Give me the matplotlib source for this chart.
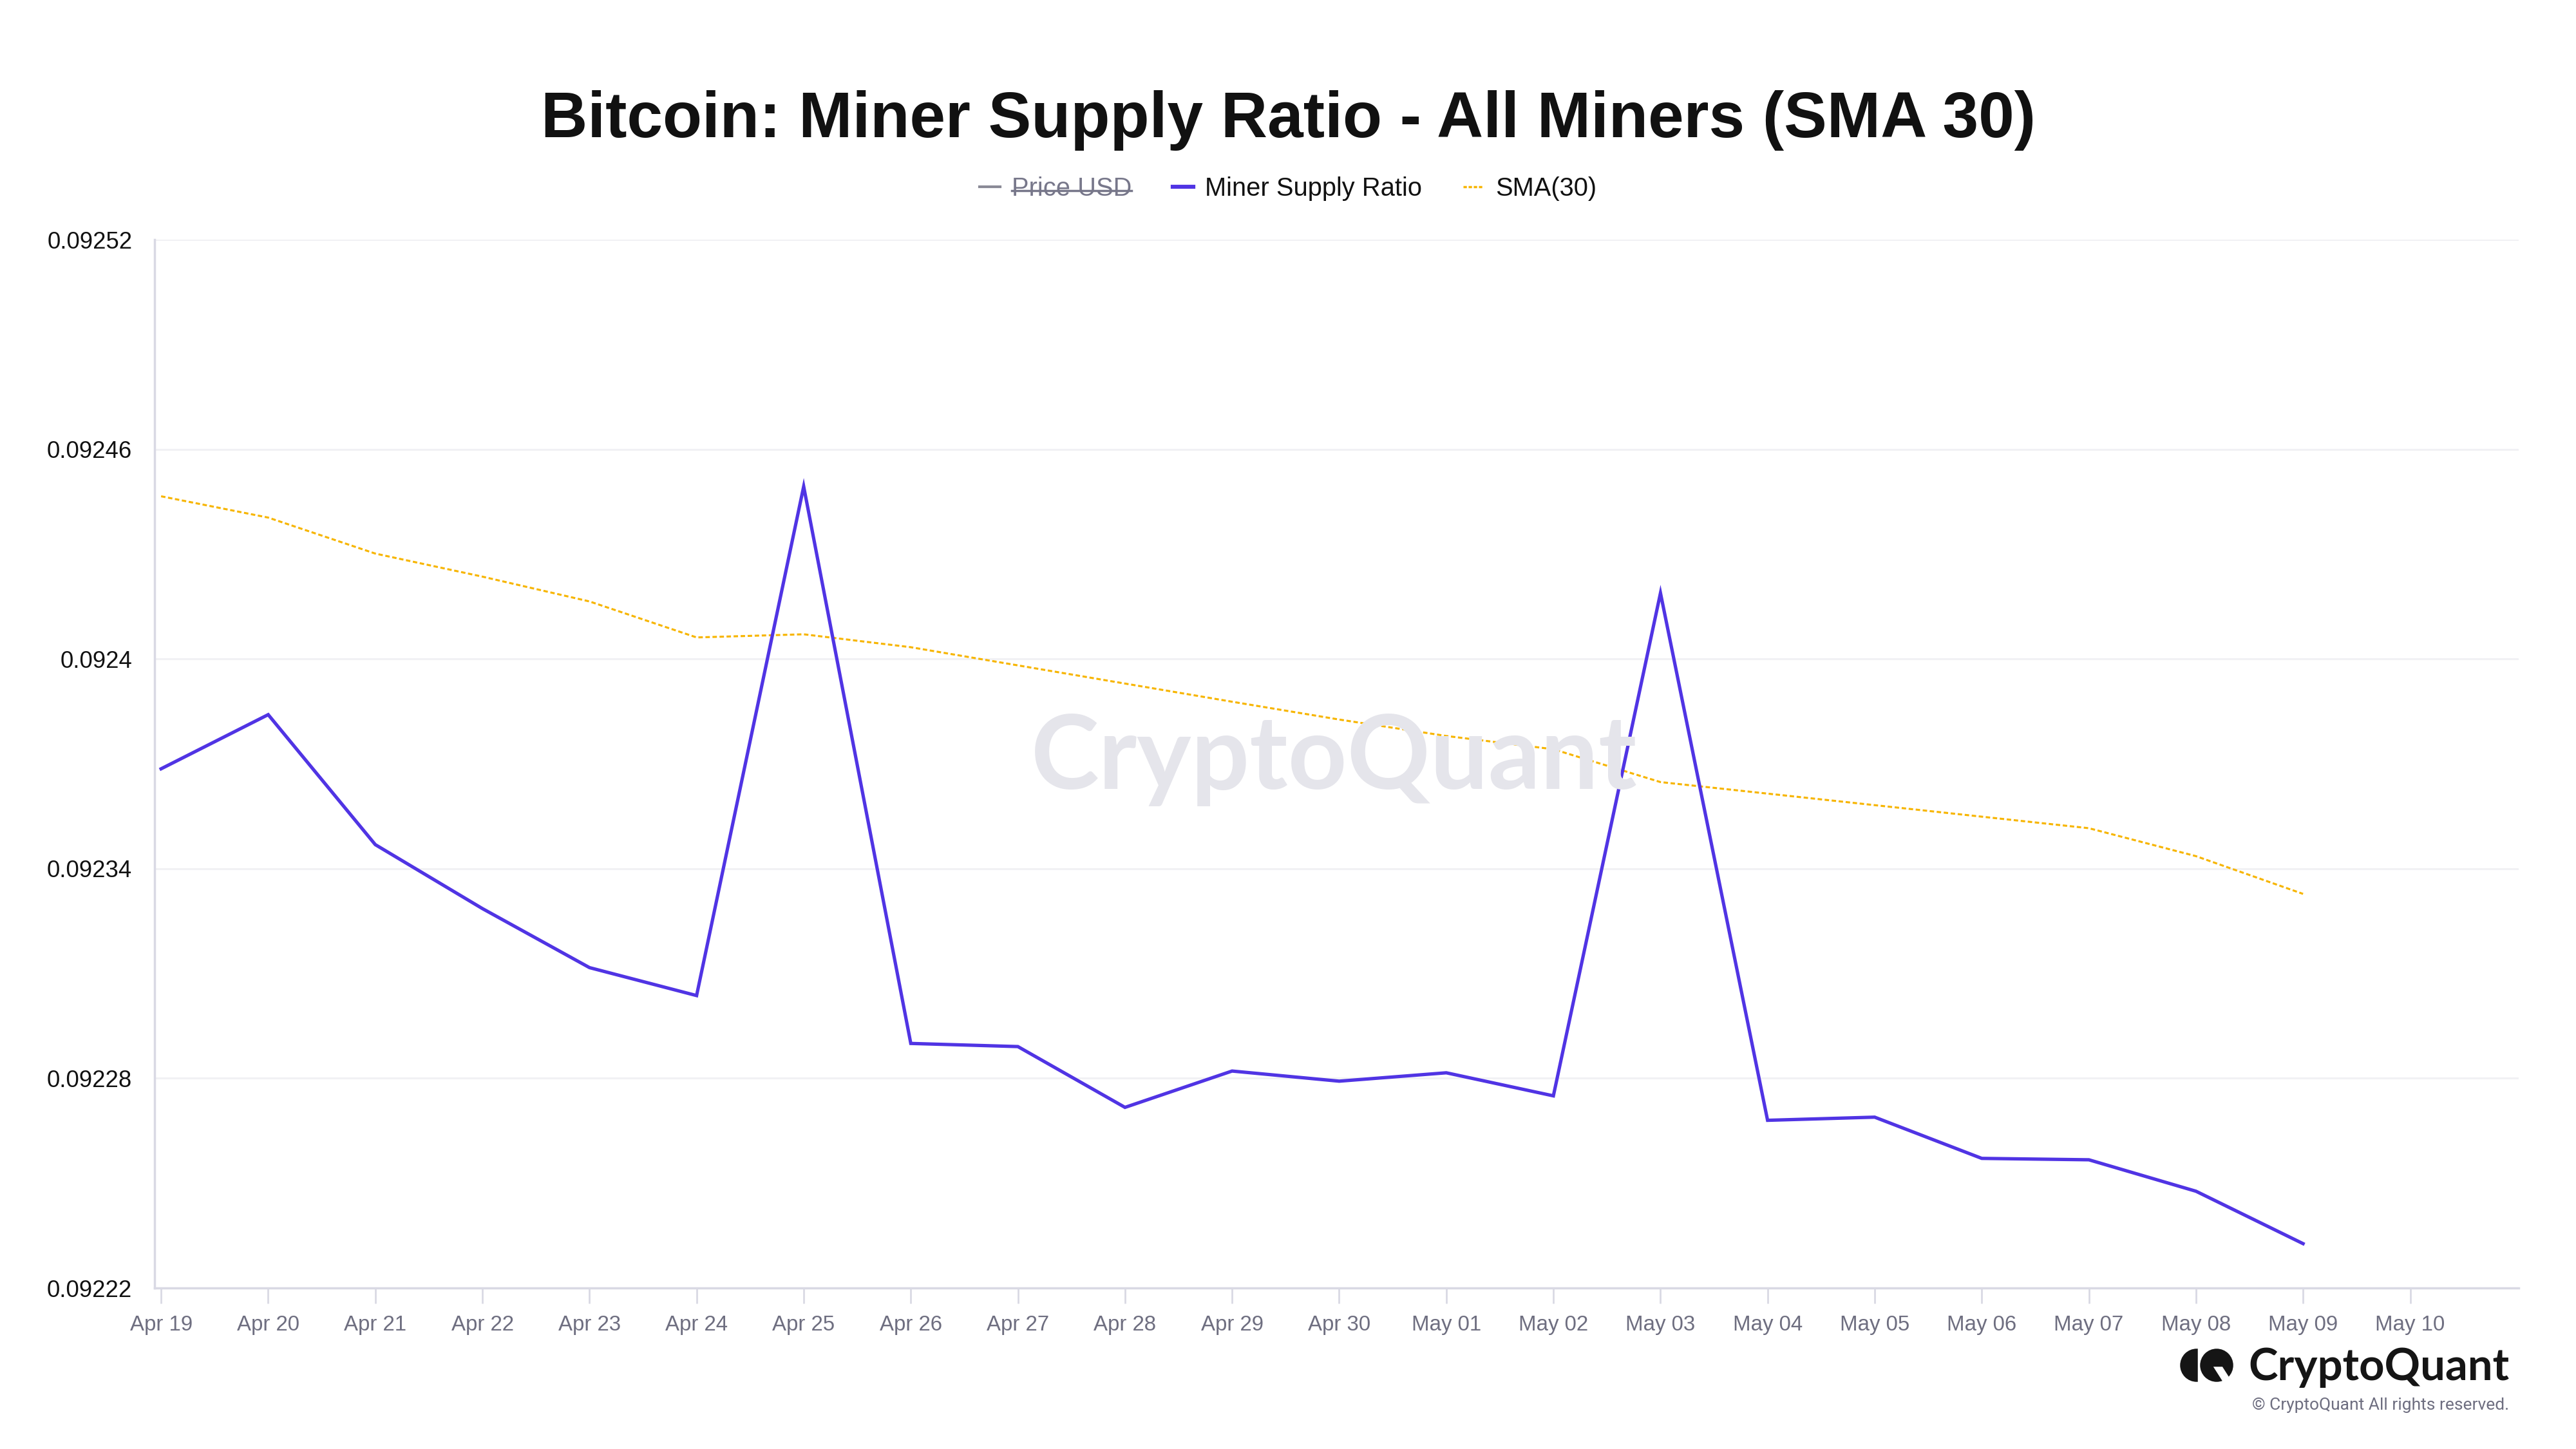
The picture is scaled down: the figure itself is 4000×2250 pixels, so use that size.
import numpy as np
import matplotlib
matplotlib.use('Agg')
import matplotlib.pyplot as plt
import matplotlib.dates as mdates
from matplotlib.lines import Line2D
from matplotlib.patches import Wedge, Circle, Polygon

plt.rcParams['font.family'] = ['Liberation Sans', 'DejaVu Sans']

# data
dates = ['2024-04-19', '2024-04-20', '2024-04-21', '2024-04-22', '2024-04-23', '2024-04-24',
         '2024-04-25', '2024-04-26', '2024-04-27', '2024-04-28', '2024-04-29', '2024-04-30',
         '2024-05-01', '2024-05-02', '2024-05-03', '2024-05-04', '2024-05-05', '2024-05-06',
         '2024-05-07', '2024-05-08', '2024-05-09']
minerRatio = [0.0923686, 0.0923841, 0.0923469, 0.0923286, 0.0923117, 0.0923037,
              0.0924494, 0.0922900, 0.0922891, 0.0922717, 0.0922821, 0.0922792,
              0.0922816, 0.0922750, 0.0924189, 0.0922680, 0.0922689, 0.0922571,
              0.0922567, 0.0922477, 0.0922327]
sma30 = [0.0924466, 0.0924405, 0.0924302, 0.0924236, 0.0924165, 0.0924062,
         0.0924071, 0.0924034, 0.0923982, 0.0923930, 0.0923878, 0.0923827,
         0.0923780, 0.0923742, 0.0923648, 0.0923615, 0.0923582, 0.0923549,
         0.0923516, 0.0923436, 0.0923328]
yTicks = [0.09222, 0.09228, 0.09234, 0.0924, 0.09246, 0.09252]
yTickLabels = ['0.09222', '0.09228', '0.09234', '0.0924', '0.09246', '0.09252']
xStart = '2024-04-19'
xEnd = '2024-05-10'

blue = '#5034e4'
orange = '#f7b500'
axisGray = '#d9d9e4'
labelGray = '#6e6e80'

x = np.array([np.datetime64(d) for d in dates])

fig = plt.figure(figsize=(16, 9), dpi=250)
ax = fig.add_axes([0.06, 0.1111, 0.9177, 0.7234])

ax.plot(x, minerRatio, color=blue, lw=1.5, zorder=4, solid_joinstyle='miter')
ax.plot(x, sma30, color=orange, lw=0.9, linestyle=(0, (2.2, 1.3)), zorder=3)

ax.set_ylim(yTicks[0], yTicks[-1])
ax.set_yticks(yTicks)
ax.set_yticklabels(yTickLabels)
ax.grid(axis='y', color='#f1f1f4', lw=0.9)
ax.set_axisbelow(True)

day0 = np.datetime64(xStart)
dayN = np.datetime64(xEnd)
ax.set_xticks(np.arange(day0, dayN + np.timedelta64(1, 'D')))
ax.xaxis.set_major_formatter(mdates.DateFormatter('%b %d'))
ax.set_xlim(mdates.date2num(day0) - 0.061, mdates.date2num(dayN) + 1.012)

for s in ['top', 'right']:
    ax.spines[s].set_visible(False)
ax.spines['left'].set_color(axisGray)
ax.spines['bottom'].set_color(axisGray)
ax.spines['left'].set_linewidth(1.0)
ax.spines['bottom'].set_linewidth(1.0)

ax.tick_params(axis='y', length=0, pad=10, labelsize=10.5, labelcolor='#111111')
ax.tick_params(axis='x', length=7, width=0.8, color=axisGray, pad=5,
               labelsize=9.5, labelcolor=labelGray)

# title
fig.text(0.5, 0.9053, 'Bitcoin: Miner Supply Ratio - All Miners (SMA 30)',
         ha='center', va='baseline', fontsize=28.8, fontweight='bold', color='#111111')

# legend
handles = [Line2D([], [], color='#8a8a96', lw=1.2),
           Line2D([], [], color=blue, lw=1.8),
           Line2D([], [], color=orange, lw=1.0, linestyle=(0, (1.5, 0.8)))]
leg = fig.legend(handles, ['Price USD', 'Miner Supply Ratio', 'SMA(30)'],
                 loc='center', bbox_to_anchor=(0.5, 0.870), ncol=3, frameon=False,
                 fontsize=11.5, handlelength=0.8, handletextpad=0.45,
                 columnspacing=1.6)
leg.get_texts()[0].set_color('#77778a')
for t in leg.get_texts()[1:]:
    t.set_color('#111111')

# strike through the hidden series label
fig.canvas.draw()
bb = leg.get_texts()[0].get_window_extent().transformed(fig.transFigure.inverted())
yMid = bb.y0 + bb.height * 0.42
fig.add_artist(Line2D([bb.x0, bb.x1], [yMid, yMid], color='#77778a', lw=1.0,
                      transform=fig.transFigure))

# watermark
fig.text(0.518, 0.476, 'CryptoQuant', ha='center', va='center', fontsize=46,
         family=['Lato', 'DejaVu Sans'], fontweight='bold', color='#e5e5eb', zorder=0)

# logo bottom right
fig.text(0.974, 0.0476, 'CryptoQuant', ha='right', va='baseline', fontsize=19.8,
         family=['Lato', 'DejaVu Sans'], fontweight='bold', color='#151515')
fig.text(0.974, 0.0271, '\u00a9 CryptoQuant All rights reserved.', ha='right',
         va='baseline', fontsize=7.6, family=['Roboto', 'DejaVu Sans'], color=labelGray)

# logo mark, drawn in inches so the circles stay round
dpi = 250.0
cy = (2250 - 2120) / dpi
fig.add_artist(Wedge((3411 / dpi, cy), 24 / dpi, 90, 270, color='#151515',
                     transform=fig.dpi_scale_trans))
fig.add_artist(Circle((3442 / dpi, cy), 24 / dpi, color='#151515',
                      transform=fig.dpi_scale_trans))
slot = [(3440, 2124), (3450, 2124), (3464, 2146), (3454, 2146)]
fig.add_artist(Polygon([(px / dpi, (2250 - py) / dpi) for px, py in slot], closed=True,
                       color='white', transform=fig.dpi_scale_trans))

fig.savefig('out.png', dpi=250, facecolor='white')
